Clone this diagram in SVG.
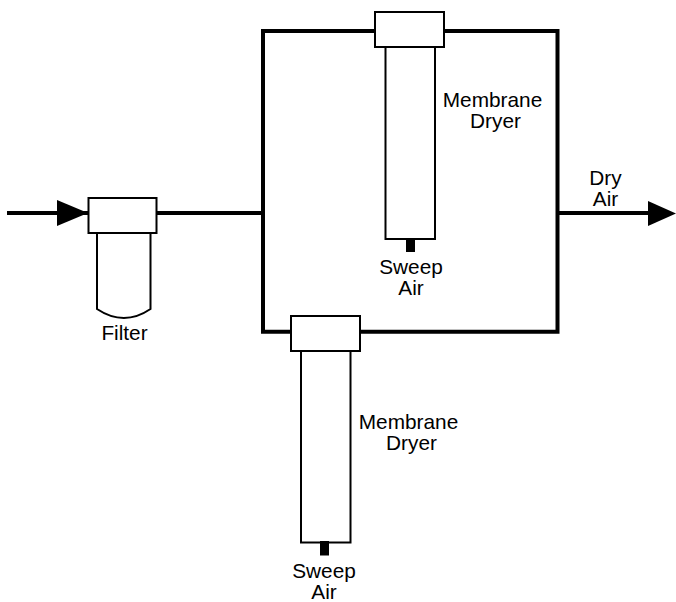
<svg xmlns="http://www.w3.org/2000/svg" width="676" height="602" viewBox="0 0 676 602">
<style>
.pipe{fill:none;stroke:#000;stroke-width:4}
.box{fill:#fff;stroke:#000;stroke-width:2}
.body{fill:#fff;stroke:#000;stroke-width:2}
.head{fill:#000}
text{font-family:"Liberation Sans",Arial,sans-serif;font-size:20.8px;fill:#000;text-anchor:middle}
</style>
<rect width="676" height="602" fill="#fff"/>
<g id="connectors">
<path class="pipe" d="M7 213H88"/>
<path class="pipe" d="M156 213H263"/>
<path class="pipe" d="M263 213V31H557.500V331.700H263Z"/>
<path class="pipe" d="M557.500 213H650"/>
<polygon class="head" points="57,200 88,213 57,226"/>
<polygon class="head" points="648,201 676,213.500 648,226"/>
</g>
<g id="filter">
<path class="body" d="M97 233V309Q124 327 150.500 309V233"/>
<rect class="box" x="88.500" y="198" width="68" height="35"/>
<text x="124.500" y="340">Filter</text>
</g>
<g id="dryer-top">
<rect class="body" x="385.500" y="47" width="49.500" height="192"/>
<rect x="406" y="238" width="9" height="14" fill="#000"/>
<rect class="box" x="375" y="12" width="69" height="35"/>
<text x="492.500" y="107">Membrane</text>
<text x="495.500" y="128">Dryer</text>
<text x="411" y="274">Sweep</text>
<text x="411" y="295">Air</text>
</g>
<g id="dryer-bottom">
<rect class="body" x="301" y="351" width="49.500" height="191.500"/>
<rect x="320" y="541" width="9" height="14.500" fill="#000"/>
<rect class="box" x="291" y="316" width="69" height="35"/>
<text x="408.500" y="429">Membrane</text>
<text x="411.500" y="450">Dryer</text>
<text x="324" y="578">Sweep</text>
<text x="324" y="599">Air</text>
</g>
<g id="dry-air">
<text x="605.500" y="185">Dry</text>
<text x="605.500" y="206">Air</text>
</g>
</svg>
